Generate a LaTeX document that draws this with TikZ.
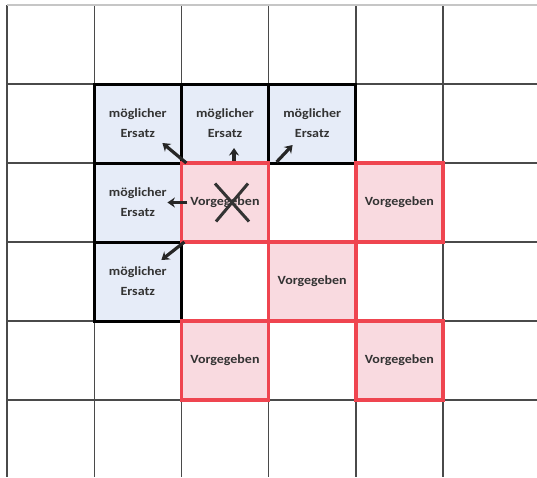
\documentclass[tikz,border=0pt]{standalone}
\usepackage{graphicx}
\usepackage{fontspec}
\newfontfamily\cellfont{Carlito}
\usetikzlibrary{arrows.meta,calc}
\definecolor{gridcol}{HTML}{4A4A4A}
\definecolor{bluefill}{HTML}{E6ECF8}
\definecolor{redfill}{HTML}{F9DAE0}
\definecolor{redline}{HTML}{EF4550}
\definecolor{txt}{HTML}{333333}
\newcommand\sx[1]{\scalebox{1.12}[1]{#1}}
\tikzset{
  cellbase/.style={minimum width=87.2pt, minimum height=79pt, inner sep=0pt, outer sep=0pt,
    align=center, text=txt, font=\cellfont\bfseries\fontsize{12.5}{20}\selectfont},
  ersatz/.style={cellbase, fill=bluefill, draw=black, line width=3pt},
  vorg/.style={cellbase, fill=redfill, draw=redline, line width=3.5pt},
  gridline/.style={draw=gridcol, line width=1.4pt},
  arr/.style={draw=black!85, line width=3.2pt, -{Stealth[length=7.5pt,width=10pt]}},
  cross/.style={draw=black!80, line width=3pt}
}
\begin{document}
\begin{tikzpicture}[x=1pt,y=-1pt]
\useasboundingbox (0,0) rectangle (537,477);
\fill[white] (0,0) rectangle (537,477);
% grid
\foreach \k in {0,...,5} {
  \draw[gridline] ({7+87.2*\k},5) -- ({7+87.2*\k},477);
}
\draw[draw=gray!45, line width=1.2pt] (7,5) -- (537,5);
\foreach \k in {1,...,5} {
  \draw[gridline] (7,{5+79*\k}) -- (537,{5+79*\k});
}
% blue cells
\node[ersatz] (e11) at ({7+87.2*1.5},{5+79*1.5}) {\sx{möglicher}\\\sx{Ersatz}};
\node[ersatz] (e21) at ({7+87.2*2.5},{5+79*1.5}) {\sx{möglicher}\\\sx{Ersatz}};
\node[ersatz] (e31) at ({7+87.2*3.5},{5+79*1.5}) {\sx{möglicher}\\\sx{Ersatz}};
\node[ersatz] (e12) at ({7+87.2*1.5},{5+79*2.5}) {\sx{möglicher}\\\sx{Ersatz}};
\node[ersatz] (e13) at ({7+87.2*1.5},{5+79*3.5}) {\sx{möglicher}\\\sx{Ersatz}};
% red cells
\node[vorg] (v22) at ({7+87.2*2.5},{5+79*2.5}) {\sx{Vorgegeben}};
\node[vorg] (v42) at ({7+87.2*4.5},{5+79*2.5}) {\sx{Vorgegeben}};
\node[vorg] (v33) at ({7+87.2*3.5},{5+79*3.5}) {\sx{Vorgegeben}};
\node[vorg] (v24) at ({7+87.2*2.5},{5+79*4.5}) {\sx{Vorgegeben}};
\node[vorg] (v44) at ({7+87.2*4.5},{5+79*4.5}) {\sx{Vorgegeben}};
% cross
\coordinate (xc) at ($(v22.center)+(7,0)$);
\draw[cross] ($(xc)+(-17,-19)$) -- ($(xc)+(17,19)$);
\draw[cross] ($(xc)+(16,-19)$) -- ($(xc)+(-16,19)$);
% arrows
\coordinate (t1) at ($(v22.north west)+(-19,-20)$);
\coordinate (t2) at ($(v22.north)+(9,-15)$);
\coordinate (t3) at ($(v22.north east)+(24,-18)$);
\coordinate (t4) at ($(v22.west)+(-14,0)$);
\coordinate (t5) at ($(v22.south west)+(-20,18)$);
\draw[arr] ($(v22.north west)+(5,0)$) -- (t1);
\draw[arr] ($(v22.north)+(9,-2)$) -- (t2);
\draw[arr] ($(v22.north east)+(8,-1)$) -- (t3);
\draw[arr] ($(v22.west)+(6,0)$) -- (t4);
\draw[arr] ($(v22.south west)+(3,0)$) -- (t5);
\end{tikzpicture}
\end{document}
